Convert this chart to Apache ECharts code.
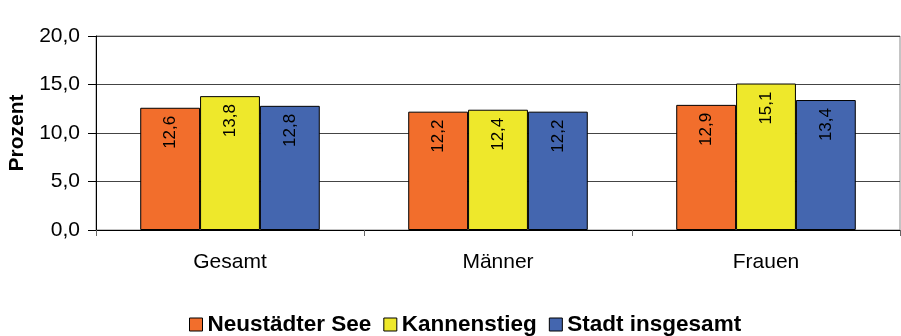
<!DOCTYPE html>
<html>
<head>
<meta charset="utf-8">
<script src="https://cdn.jsdelivr.net/npm/echarts@6/dist/echarts.min.js"></script>
<style>
  html, body { margin: 0; padding: 0; background: #fff; }
  #chart { width: 901px; height: 336px; }
</style>
</head>
<body>
<div id="chart"></div>
<script>
// Arbeitslosenquote nach Geschlecht (Prozent)
var categories = ['Gesamt', 'Männer', 'Frauen'];
var seriesNames = ['Neustädter See', 'Kannenstieg', 'Stadt insgesamt'];
var neustaedterSee = [12.6, 12.2, 12.9];
var kannenstieg = [13.8, 12.4, 15.1];
var stadtInsgesamt = [12.8, 12.2, 13.4];
var yTicks = [0, 5, 10, 15, 20];

var colors = ['#F26E2C', '#EEE82B', '#4466AF'];
var values = [neustaedterSee, kannenstieg, stadtInsgesamt];

function deNum(v) { return v.toFixed(1).replace('.', ','); }

var chart = echarts.init(document.getElementById('chart'), null, { renderer: 'canvas' });

chart.setOption({
  animation: false,
  textStyle: { fontFamily: 'Arial, "Liberation Sans", sans-serif' },
  grid: {
    left: 96, right: 1, top: 36, bottom: 106,
    outerBoundsMode: 'none',
    containLabel: false,
    show: true, borderColor: '#8a8a8a', borderWidth: 1, backgroundColor: 'transparent'
  },
  legend: {
    data: seriesNames,
    left: 184,
    top: 308,
    icon: 'rect',
    itemWidth: 13,
    itemHeight: 13,
    itemGap: 12,
    textStyle: { fontSize: 22.5, fontWeight: 'bold', color: '#000', padding: [0, 0, 0, 0] },
    itemStyle: { borderColor: '#000', borderWidth: 1 }
  },
  xAxis: {
    type: 'category',
    data: categories,
    axisLine: { lineStyle: { color: '#000', width: 1 } },
    axisTick: { show: true, length: 6, lineStyle: { color: '#666' } },
    axisLabel: { fontSize: 21, color: '#000', margin: 22 }
  },
  yAxis: {
    type: 'value',
    min: yTicks[0],
    max: yTicks[yTicks.length - 1],
    interval: yTicks[1] - yTicks[0],
    name: 'Prozent',
    nameLocation: 'middle',
    nameGap: 68,
    nameTextStyle: { fontSize: 21, fontWeight: 'bold', color: '#000' },
    axisLine: { show: true, lineStyle: { color: '#000', width: 1 } },
    axisTick: { show: true, length: 8, inside: false, lineStyle: { color: '#000' } },
    axisLabel: { fontSize: 21, color: '#000', margin: 16, formatter: function (v) { return deNum(v); } },
    splitLine: { show: true, lineStyle: { color: '#444', width: 1 } }
  },
  series: seriesNames.map(function (name, i) {
    return {
      name: name,
      type: 'bar',
      data: values[i],
      barGap: '0%',
      barCategoryGap: '33%',
      itemStyle: { color: colors[i], borderColor: '#000', borderWidth: 1 },
      label: {
        show: true,
        position: 'insideTop',
        rotate: 90,
        align: 'right',
        verticalAlign: 'middle',
        distance: 8,
        fontSize: 17,
        color: '#000',
        formatter: function (p) { return deNum(p.value); }
      }
    };
  })
});
</script>
</body>
</html>
